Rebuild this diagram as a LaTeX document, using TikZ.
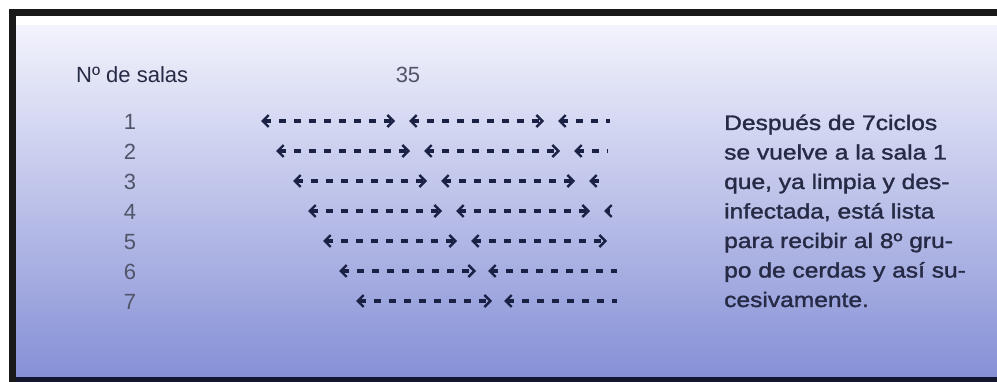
\documentclass[tikz,border=0pt]{standalone}
\usepackage{fontspec}
\setmainfont{Liberation Sans}
\newfontfamily\notefont{Liberation Sans}[FakeBold=1.5,FakeStretch=1.17]
\usepackage{tikz}
\usetikzlibrary{arrows.meta}
\definecolor{ink}{HTML}{262A45}
\definecolor{navy}{HTML}{1B2145}
\definecolor{bgtop}{HTML}{F2F3FC}
\definecolor{bgmid}{HTML}{B9C0EB}
\definecolor{bgbot}{HTML}{8690D6}
\tikzset{
  lbl/.style={anchor=base west, inner sep=0pt, text=ink, font=\fontsize{22}{26}\selectfont},
  num/.style={anchor=base, inner sep=0pt, text=ink!80, font=\fontsize{22}{26}\selectfont},
  note/.style={anchor=base west, inner sep=0pt, text=ink, font=\notefont\fontsize{21}{29}\selectfont},
  chev/.tip={Straight Barb[length=6pt, width=12pt, line width=2.4pt, sep=1pt]},
  grp/.style={navy, line width=3.4pt, dash pattern=on 7pt off 8pt, chev-chev},
  grpl/.style={navy, line width=3.4pt, dash pattern=on 7pt off 8pt, chev-}
}

\begin{document}
\begin{tikzpicture}[x=1pt, y=-1pt]
  \useasboundingbox (0,0) rectangle (997,382);
  \fill[white] (0,0) rectangle (997,382);
  \shade[top color=bgtop, middle color=bgmid, bottom color=bgbot] (16,26) rectangle (997,377);
  % frame
  \fill[black!90] (9,9) rectangle (997,16);
  \fill[black!90] (9,9) rectangle (16,382);
  \fill[navy!70!black] (16,377) rectangle (997,382);

  \node[lbl] (salas) at (76,83) {Nº de salas};
  \node[num] (total) at (408,83) {35};
  \foreach \r in {1,...,7}
    \node[num] (n\r) at (130,{130+30*(\r-1)}) {\r};

  % ciclos
  \draw[grp]  (260,121) -- (396,121);
  \draw[grp]  (408,121) -- (545,121);
  \draw[grpl] (557,121) -- (610,121);
  \draw[grp]  (275,151) -- (411,151);
  \draw[grp]  (423,151) -- (561,151);
  \draw[grpl] (573,151) -- (608,151);
  \draw[grp]  (292,181) -- (428,181);
  \draw[grp]  (440,181) -- (576,181);
  \draw[grpl] (588,181) -- (605,181);
  \draw[grp]  (307,211) -- (443,211);
  \draw[grp]  (455,211) -- (591,211);
  \draw[grpl] (603,211) -- (610,211);
  \draw[grp]  (322,241) -- (458,241);
  \draw[grp]  (470,241) -- (608,241);
  \draw[grp]  (338,271) -- (477,271);
  \draw[grpl] (487,271) -- (617,271);
  \draw[grp]  (355,301) -- (493,301);
  \draw[grpl] (503,301) -- (617,301);

  \node[note] (t1) at (724,130) {Después de 7ciclos};
  \node[note] (t2) at (724,159.5) {se vuelve a la sala 1};
  \node[note] (t3) at (724,189) {que, ya limpia y des-};
  \node[note] (t4) at (724,218.5) {infectada, está lista};
  \node[note] (t5) at (724,248) {para recibir al 8º gru-};
  \node[note] (t6) at (724,277.5) {po de cerdas y así su-};
  \node[note] (t7) at (724,307) {cesivamente.};
\end{tikzpicture}
\end{document}
